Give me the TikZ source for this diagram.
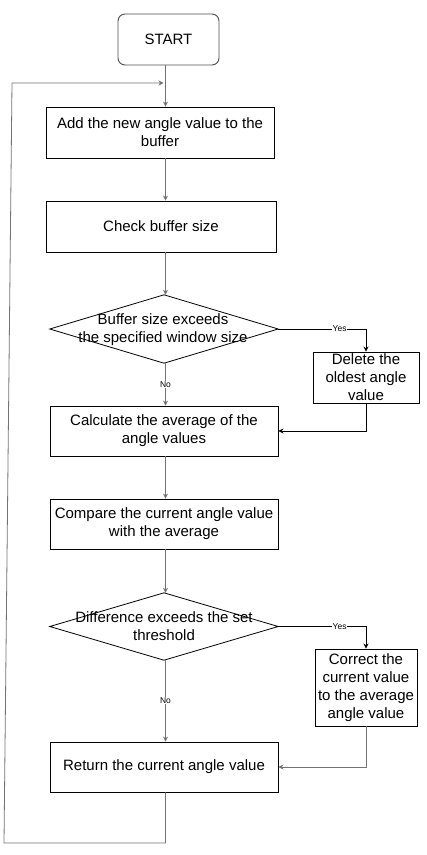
\documentclass[tikz,border=0pt]{standalone}
\usepackage{fontspec}
\setmainfont{Liberation Sans}
\usetikzlibrary{arrows.meta}
\begin{document}
\begin{tikzpicture}[x=1pt,y=-1pt,
  box/.style={draw=black,line width=0.9pt,inner sep=0pt,align=center,font=\fontsize{15}{18}\selectfont},
  dtext/.style={inner sep=0pt,align=center,font=\fontsize{15}{18}\selectfont},
  dshape/.style={inner sep=0pt,minimum width=228pt,minimum height=68pt},
  conn/.style={draw=black!55,line width=0.8pt},
  yconn/.style={draw=black,line width=0.8pt},
  arr/.style={-{Stealth[length=5pt,width=5pt]}},
  lbl/.style={fill=white,inner sep=0.5pt,font=\fontsize{8.5}{9}\selectfont}]
\useasboundingbox (0,0) rectangle (427,855);
\coordinate (col) at (165.5,0);
\node[box,rounded corners=7pt,draw=black!70,minimum width=101pt,minimum height=51pt] (start) at (168.5,39.5) {START};
\node[box,minimum width=228pt,minimum height=51pt] (b1) at (160,132.5) {Add the new angle value to the\\buffer};
\node[box,minimum width=230pt,minimum height=51pt] (b2) at (161,226.5) {Check buffer size};
\node[dshape] (d1) at (164,329) {};
\draw[line width=0.8pt] (d1.west) -- (d1.north) -- (d1.east) -- (d1.south) -- cycle;
\node[dtext] (d1t) at (163,330) {Buffer size exceeds\\the specified window size};
\node[box,minimum width=106pt,minimum height=51pt] (del) at (366,377.5) {Delete the\\oldest angle\\value};
\node[box,minimum width=228pt,minimum height=50pt] (b3) at (164,431) {Calculate the average of the\\angle values};
\node[box,minimum width=228pt,minimum height=50pt] (b4) at (164,524) {Compare the current angle value\\with the average};
\node[dshape,minimum height=67pt] (d2) at (164,626.5) {};
\draw[line width=0.8pt] (d2.west) -- (d2.north) -- (d2.east) -- (d2.south) -- cycle;
\node[dtext] (d2t) at (164,626.5) {Difference exceeds the set\\threshold};
\node[box,minimum width=102pt,minimum height=77pt] (cor) at (366,687.5) {Correct the\\current value\\to the average\\angle value};
\node[box,minimum width=228pt,minimum height=50pt] (b5) at (164,767) {Return the current angle value};
% connectors
\coordinate (join) at (165.5,83);
\coordinate (lb) at (4,843);
\coordinate (lt) at (12,83);
\draw[conn,arr] (start.south -| col) -- (b1.north -| col);
\draw[conn,arr] (b1.south -| col) -- (b2.north -| col);
\draw[conn,arr] (b2.south -| col) -- (d1.north -| col);
\draw[conn,arr] (d1.south -| col) -- node[lbl] (no1) {No} (b3.north -| col);
\draw[yconn,arr] (d1.east) -| node[lbl,pos=0.35] (yes1) {Yes} (del.north);
\draw[yconn,arr] (del.south) |- (b3.east);
\draw[conn,arr] (b3.south -| col) -- (b4.north -| col);
\draw[conn,arr] (b4.south -| col) -- (d2.north -| col);
\draw[yconn,arr] (d2.east) -| node[lbl,pos=0.35] (yes2) {Yes} (cor.north);
\draw[conn,arr] (d2.south -| col) -- node[lbl] (no2) {No} (b5.north -| col);
\draw[conn,arr] (cor.south) |- (b5.east);
\draw[conn,arr] (b5.south -| col) |- (lb) -- (lt) -- ([xshift=-2pt]join);
\end{tikzpicture}
\end{document}
